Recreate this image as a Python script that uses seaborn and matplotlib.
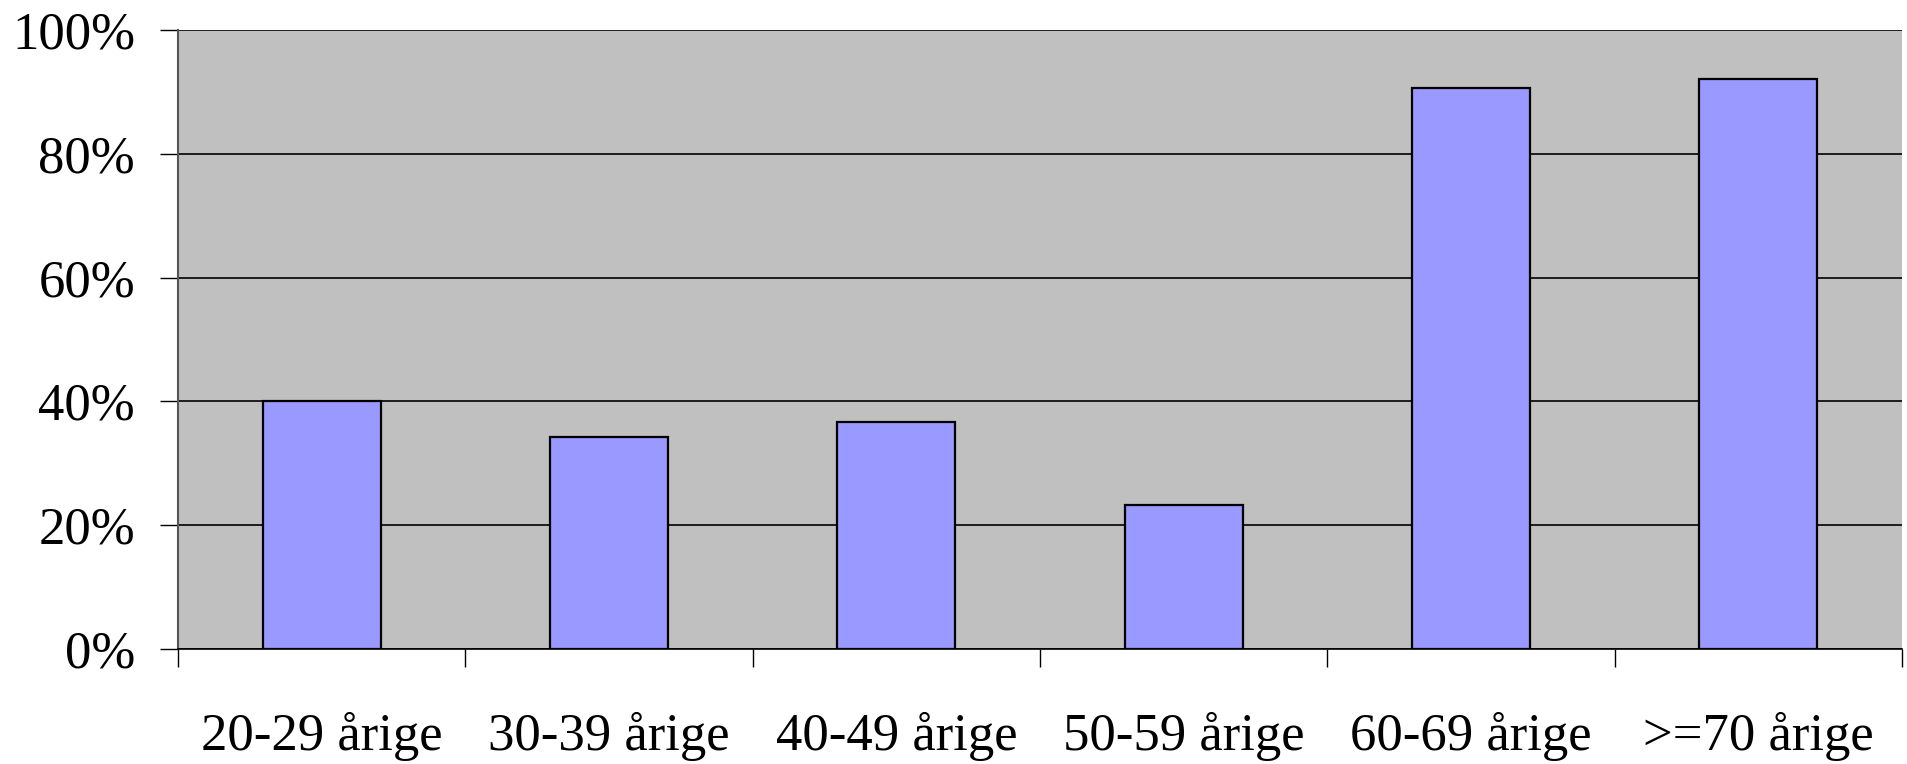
import matplotlib.pyplot as plt
import seaborn as sns
import pandas as pd
import numpy as np

# Andel per aldersgruppe
age_groups = ['20-29 årige', '30-39 årige', '40-49 årige', '50-59 årige', '60-69 årige', '>=70 årige']
shares = [0.40, 0.343, 0.367, 0.233, 0.907, 0.921]
y_ticks = [0.0, 0.2, 0.4, 0.6, 0.8, 1.0]
y_tick_labels = ['0%', '20%', '40%', '60%', '80%', '100%']

sns.set_theme(style='white')
plt.rcParams['font.family'] = ['Liberation Serif', 'DejaVu Serif']
plt.rcParams['text.color'] = 'black'
plt.rcParams['xtick.color'] = 'black'
plt.rcParams['ytick.color'] = 'black'

df = pd.DataFrame({'group': age_groups, 'share': shares})

fig = plt.figure(figsize=(19.07, 7.64), dpi=100)
ax = fig.add_axes([178 / 1907, 1 - 649 / 764, (1902 - 178) / 1907, (649 - 30) / 764])
ax.set_facecolor('#C0C0C0')

sns.barplot(data=df, x='group', y='share', color='#9999FF', width=0.41,
            edgecolor='black', linewidth=1.6, saturation=1, ax=ax, zorder=3)

ax.set_ylim(0, 1.0)
ax.set_xlim(-0.5, len(age_groups) - 0.5)

# gitterlinjer
ax.set_yticks(y_ticks)
ax.set_yticklabels(y_tick_labels, fontsize=38, color='black')
ax.yaxis.grid(True, color='black', linewidth=1.2, zorder=1)
ax.set_axisbelow(True)

# tick-streger mellem kategorier, etiketter i midten
n = len(age_groups)
ax.set_xticks(np.arange(n + 1) - 0.5)
ax.set_xticklabels([])
ax.set_xticks(np.arange(n), minor=True)
ax.set_xticklabels(age_groups, minor=True, fontsize=38, color='black')
ax.tick_params(axis='x', which='major', length=13, width=1.0, color='black', direction='out', bottom=True)
ax.tick_params(axis='x', which='minor', length=0, pad=45)
ax.tick_params(axis='y', length=13, width=1.0, color='black', direction='out', left=True, pad=18)

for side in ['top', 'right']:
    ax.spines[side].set_visible(False)
ax.spines['left'].set_color('#555555')
ax.spines['left'].set_linewidth(1.5)
ax.spines['bottom'].set_color('black')
ax.spines['bottom'].set_linewidth(1.2)

ax.set_xlabel('')
ax.set_ylabel('')

fig.savefig('out.png', dpi=100)
